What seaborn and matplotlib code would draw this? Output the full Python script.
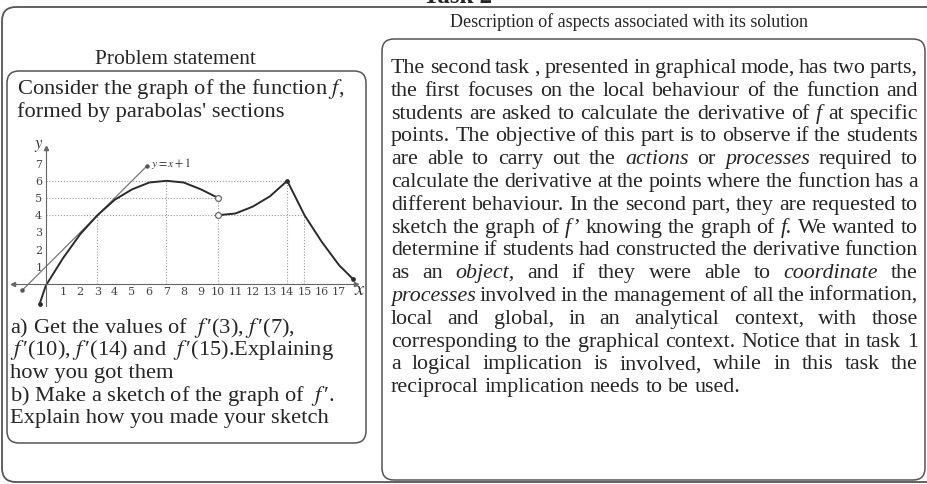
import numpy as np
import pandas as pd
import seaborn as sns
import matplotlib
matplotlib.use('Agg')
import matplotlib.pyplot as plt
from matplotlib.patches import FancyBboxPatch

# pieces of f
seg1_x = [-0.35, 0, 1, 2, 3, 4, 5, 6, 7, 8, 9, 10]
seg1_y = [-1.15, -0.1, 1.5, 2.9, 4.0, 4.9, 5.5, 5.9, 6.0, 5.9, 5.5, 5.0]
seg2_x = [10, 11, 12, 13, 14]
seg2_y = [4.0, 4.1, 4.5, 5.1, 6.0]
seg3_x = [14, 14.5, 15, 16, 17, 17.8]
seg3_y = [6.0, 5.0, 4.0, 2.45, 1.1, 0.3]
# tangent y = x + 1
tan_x = [-1.35, 5.85]
tan_y = [-0.35, 6.85]
# dotted guide lines
guide_y = [6, 5, 4]
guide_y_to = [14, 10, 15]
guide_x = [3, 7, 10, 14, 15]
guide_x_to = [4, 6, 5, 6, 4]
x_ticks = list(range(1, 18))
y_ticks = list(range(1, 8))
open_x = [10, 10]
open_y = [5, 4]
dot_x = [14, 17.8, -0.35]
dot_y = [6.0, 0.3, -1.15]

intro_lines = ["Consider the graph of the function $f$,",
               "formed by parabolas' sections"]
question_lines = [r"a) Get the values of  $f\,$′(3), $f\,$′(7),",
                  r"$f\,$′(10), $f\,$′(14) and  $f\,$′(15).Explaining",
                  "how you got them",
                  r"b) Make a sketch of the graph of  $f\,$′.",
                  "Explain how you made your sketch"]
desc_lines = [
    "The second task , presented in graphical mode, has two parts,",
    "the first focuses on the local behaviour of the function and",
    "students are asked to calculate the derivative of *f* at specific",
    "points. The objective of this part is to observe if the students",
    "are able to carry out the *actions* or *processes* required to",
    "calculate the derivative at the points where the function has a",
    "different behaviour. In the second part, they are requested to",
    "sketch the graph of *f’* knowing the graph of *f*. We wanted to",
    "determine if students had constructed the derivative function",
    "as an *object*, and if they were able to *coordinate* the",
    "*processes* involved in the management of all the information,",
    "local and global, in an analytical context, with those",
    "corresponding to the graphical context. Notice that in task 1",
    "a logical implication is involved, while in this task the",
    "reciprocal implication needs to be used.",
]

sns.set_style('white')
plt.rcParams['font.family'] = ['Liberation Serif', 'DejaVu Serif']
plt.rcParams['mathtext.fontset'] = 'stix'

W, H = 928, 484
fig = plt.figure(figsize=(W / 100, H / 100), dpi=100)
bg = fig.add_axes([0, 0, 1, 1])
bg.set_xlim(0, W)
bg.set_ylim(H, 0)
bg.axis('off')

# frames
bg.add_patch(FancyBboxPatch((2, 7), 1000, 475, boxstyle='round,pad=0,rounding_size=14',
                            fill=False, ec='#555555', lw=1.3))
bg.add_patch(FancyBboxPatch((7, 71), 359, 372, boxstyle='round,pad=0,rounding_size=12',
                            fill=False, ec='#555555', lw=1.1))
bg.add_patch(FancyBboxPatch((382, 39), 543, 441, boxstyle='round,pad=0,rounding_size=12',
                            fill=False, ec='#555555', lw=1.1))

bg.text(458, 3, 'Task 2', fontsize=18, weight='bold', ha='center', va='baseline')
bg.text(175, 64, 'Problem statement', fontsize=15.5, ha='center', va='baseline')
bg.text(629, 27, 'Description of aspects associated with its solution', fontsize=13,
        ha='center', va='baseline')

left_size = 16.2
for i, s in enumerate(intro_lines):
    bg.text(17, 94 + i * 23, s, fontsize=left_size, va='baseline')
for i, s in enumerate(question_lines):
    bg.text(10, 333 + i * 22.5, s, fontsize=left_size, va='baseline')

# justified paragraph, word by word
body = 15.8
r = fig.canvas.get_renderer()
x0, x1 = 391, 918
for i, line in enumerate(desc_lines):
    y = 73 + i * 22.8
    words = []
    for tok in line.split():
        ital = tok.startswith('*')
        words.append(bg.text(0, y, tok.replace('*', ''), fontsize=body, va='baseline',
                             style='italic' if ital else 'normal'))
    widths = [t.get_window_extent(r).width for t in words]
    if i < len(desc_lines) - 1:
        gap = (x1 - x0 - sum(widths)) / (len(words) - 1)
    else:
        gap = body * 100 / 72 * 0.25
    x = x0
    for t, w in zip(words, widths):
        t.set_x(x)
        x += w + gap

# the small graph of f
ux, uy, ox, oy = 17.25, 17.2, 45.75, 284
xlo, xhi, ylo, yhi = -2.1, 18.8, -1.5, 8.3
ax = fig.add_axes([(ox + xlo * ux) / W, 1 - (oy - ylo * uy) / H,
                   (xhi - xlo) * ux / W, (yhi - ylo) * uy / H])
ax.set_xlim(xlo, xhi)
ax.set_ylim(ylo, yhi)
ax.patch.set_alpha(0)
for side in ['top', 'right']:
    ax.spines[side].set_visible(False)
ax.spines['left'].set_position(('data', 0))
ax.spines['bottom'].set_position(('data', 0))
ax.spines['bottom'].set_bounds(-1.9, 18.0)
ax.spines['left'].set_bounds(-1.3, 7.9)
for side in ['left', 'bottom']:
    ax.spines[side].set_color('#666666')
    ax.spines[side].set_linewidth(0.8)
ax.set_xticks(x_ticks)
ax.set_yticks(y_ticks)
ax.tick_params(direction='inout', length=3, width=0.6, pad=1, labelsize=8, colors='#444444')
for lbl in ax.get_xticklabels() + ax.get_yticklabels():
    lbl.set_family('DejaVu Serif')

ax.hlines(guide_y, 0, guide_y_to, colors='#999999', linestyles=(0, (1, 1.6)), lw=0.8)
ax.vlines(guide_x, 0, guide_x_to, colors='#999999', linestyles=(0, (1, 1.6)), lw=0.8)

sns.lineplot(x=tan_x, y=tan_y, ax=ax, color='#777777', linewidth=0.9, sort=False, estimator=None)
for sx, sy in [(seg1_x, seg1_y), (seg2_x, seg2_y), (seg3_x, seg3_y)]:
    sns.lineplot(x=sx, y=sy, ax=ax, color='#2b2b2b', linewidth=1.4, sort=False, estimator=None)
ax.plot(tan_x, tan_y, 'o', color='#555555', ms=2.2)
ax.plot(dot_x, dot_y, 'o', color='#2b2b2b', ms=2.4)
ax.plot(open_x, open_y, 'o', mfc='white', mec='#666666', ms=4.2, mew=0.9)
ax.plot([18.0], [0], '>', color='#666666', ms=3)
ax.plot([-1.9], [0], '<', color='#666666', ms=3)
ax.plot([0], [7.9], '^', color='#666666', ms=3)

ax.text(6.1, 7.0, '$y = x + 1$', fontsize=8.5, va='center', color='#333333')
ax.text(-0.4, 8.05, '$y$', fontsize=12, ha='center', va='center', color='#333333')
ax.text(18.2, -0.4, '$x$', fontsize=15, ha='center', va='center', color='#333333')
ax.set_xlabel('')
ax.set_ylabel('')

fig.savefig('out.png', dpi=100)
